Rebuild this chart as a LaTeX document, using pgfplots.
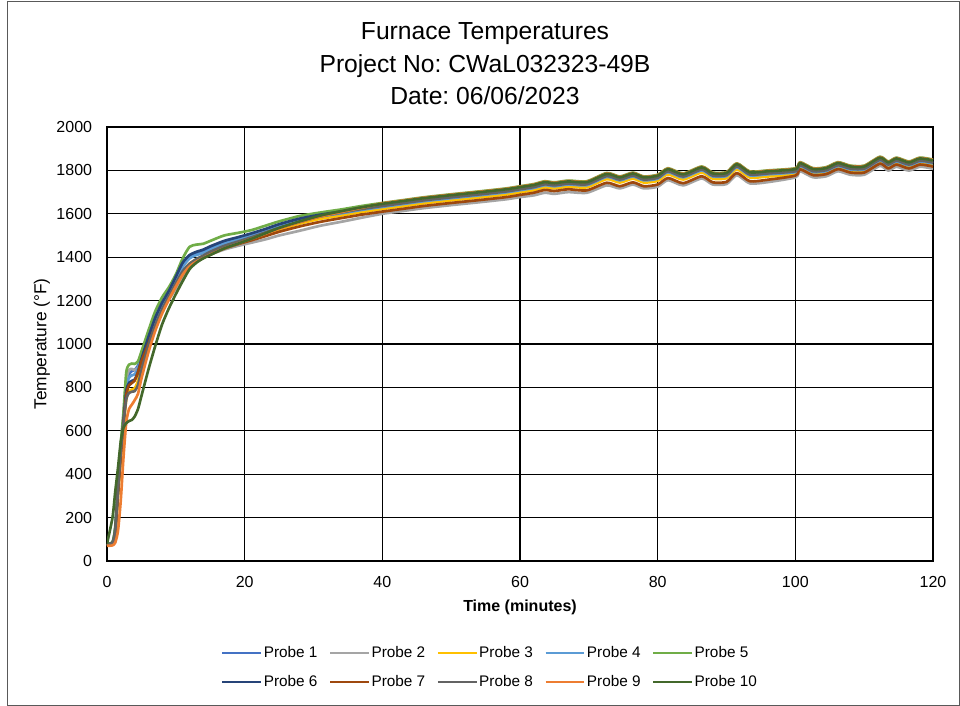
\documentclass[border=0pt]{standalone}
\usepackage{fontspec}
\setmainfont{Liberation Sans}
\usepackage{pgfplots}
\pgfplotsset{compat=1.18}
\usepackage{pgfplotstable}
\frenchspacing

\definecolor{c1}{HTML}{4472C4}
\definecolor{c2}{HTML}{A5A5A5}
\definecolor{c3}{HTML}{FFC000}
\definecolor{c4}{HTML}{5B9BD5}
\definecolor{c5}{HTML}{70AD47}
\definecolor{c6}{HTML}{264478}
\definecolor{c7}{HTML}{9E480E}
\definecolor{c8}{HTML}{636363}
\definecolor{c9}{HTML}{ED7D31}
\definecolor{c10}{HTML}{43682B}

\pgfplotstableread{
t p1 p2 p3 p4 p5 p6 p7 p8 p9 p10
0 78 78 75 78 80 78 75 78 70 80
0.8 85 84 80 84 88 84 80 84 72 200
1.2 150 150 125 145 160 140 130 140 85 320
1.6 340 345 300 335 360 330 310 330 140 430
2 520 525 470 510 540 500 480 500 280 550
2.4 660 665 615 655 690 645 630 635 480 615
2.8 810 835 745 800 870 785 765 745 640 635
3.2 860 880 780 845 905 820 810 775 700 645
3.6 875 885 790 855 910 830 820 780 720 650
4 880 880 795 860 908 835 830 782 740 665
4.5 900 890 830 885 920 870 870 810 770 700
5 950 930 900 940 965 930 920 880 840 760
6 1040 1010 1000 1035 1060 1030 1000 990 960 880
7 1120 1090 1090 1115 1150 1120 1080 1085 1060 990
8 1185 1155 1160 1180 1215 1190 1150 1160 1140 1090
9 1240 1205 1220 1235 1262 1245 1210 1220 1205 1165
10 1300 1255 1280 1295 1320 1310 1270 1280 1265 1230
11 1360 1305 1335 1355 1395 1375 1325 1335 1320 1290
12 1400 1350 1370 1395 1448 1410 1365 1370 1358 1345
13 1415 1380 1390 1410 1458 1425 1385 1392 1380 1375
14 1425 1398 1405 1420 1462 1435 1400 1408 1396 1395
15 1440 1412 1420 1435 1475 1450 1415 1425 1412 1410
17 1468 1435 1447 1462 1500 1475 1440 1452 1440 1440
19 1488 1452 1468 1483 1512 1492 1460 1472 1462 1462
21 1505 1467 1488 1502 1525 1510 1478 1492 1485 1485
23 1525 1482 1508 1522 1545 1530 1497 1514 1508 1510
25 1545 1500 1528 1543 1565 1552 1517 1535 1532 1535
28 1570 1522 1555 1568 1590 1578 1542 1562 1562 1565
31 1584 1545 1577 1588 1606 1596 1563 1588 1588 1592
34 1598 1563 1592 1602 1620 1610 1580 1606 1608 1612
37 1614 1582 1608 1618 1636 1626 1596 1622 1628 1630
40 1628 1600 1622 1632 1650 1640 1610 1636 1648 1646
43 1641 1613 1635 1645 1663 1653 1623 1649 1661 1659
46 1654 1626 1648 1658 1676 1666 1636 1662 1674 1672
50 1668 1640 1662 1672 1690 1680 1650 1676 1688 1686
54 1681 1653 1675 1685 1703 1693 1663 1689 1701 1699
58 1695 1667 1689 1699 1717 1707 1677 1703 1715 1713
60 1705 1677 1699 1709 1727 1717 1687 1713 1725 1723
62 1715 1685 1709 1719 1737 1727 1697 1723 1735 1733
63.6 1728 1697 1722 1732 1750 1740 1710 1736 1748 1746
65 1723 1692 1717 1727 1745 1735 1705 1731 1743 1741
67 1731 1700 1725 1735 1753 1743 1713 1739 1751 1749
69.7 1728 1697 1722 1732 1750 1740 1708 1736 1748 1746
72.6 1766 1731 1760 1770 1788 1778 1743 1774 1786 1784
74.5 1750 1717 1744 1754 1772 1762 1727 1758 1770 1768
76.4 1768 1735 1762 1772 1790 1780 1745 1776 1788 1786
78 1750 1717 1744 1754 1772 1762 1727 1758 1770 1768
80 1758 1725 1752 1762 1780 1770 1735 1766 1778 1776
81.5 1788 1755 1782 1792 1810 1800 1765 1796 1808 1806
83.7 1764 1731 1758 1768 1786 1776 1741 1772 1784 1782
86.4 1796 1763 1790 1800 1818 1808 1773 1804 1816 1814
88 1768 1735 1762 1772 1790 1780 1745 1776 1788 1786
90 1770 1737 1764 1774 1792 1782 1747 1778 1790 1788
91.5 1811 1778 1805 1815 1833 1823 1788 1819 1831 1829
93.4 1773 1740 1767 1777 1795 1785 1750 1781 1793 1791
96 1778 1746 1772 1782 1800 1790 1757 1786 1798 1796
100 1790 1768 1782 1792 1810 1800 1776 1796 1808 1806
100.7 1818 1796 1810 1820 1838 1828 1805 1824 1836 1834
102.6 1790 1768 1782 1792 1810 1800 1778 1796 1808 1806
104.5 1795 1773 1787 1797 1815 1805 1783 1801 1813 1811
106.2 1818 1796 1810 1820 1838 1828 1806 1824 1836 1834
108 1802 1780 1794 1804 1822 1812 1790 1808 1820 1818
110 1803 1780 1794 1804 1822 1812 1790 1808 1820 1818
112.3 1844 1821 1835 1845 1863 1853 1831 1849 1861 1859
113.5 1822 1799 1813 1823 1841 1831 1809 1827 1839 1837
114.7 1840 1817 1831 1841 1859 1849 1827 1845 1857 1855
116.5 1823 1799 1813 1823 1841 1831 1809 1827 1839 1837
118.1 1841 1817 1831 1841 1859 1849 1827 1845 1857 1855
120 1835 1808 1822 1832 1850 1840 1818 1836 1848 1846
}\furnace

\begin{document}
\begin{tikzpicture}
\useasboundingbox (0pt,0pt) rectangle (720pt,-529.5pt);
\fill[white] (0pt,0pt) rectangle (720pt,-529.5pt);
\draw[black!65, line width=0.75pt] (5.25pt,-1.2pt) rectangle (719.6pt,-528.75pt);

\node[anchor=base, font=\fontsize{18.5}{22}\selectfont] at (363.75pt,-29.5pt) {Furnace Temperatures};
\node[anchor=base, font=\fontsize{18.5}{22}\selectfont] at (363.75pt,-54.5pt) {Project No: CWaL032323-49B};
\node[anchor=base, font=\fontsize{18.5}{22}\selectfont] at (363.75pt,-78.75pt) {Date: 06/06/2023};

\begin{axis}[
  at={(80.25pt,-420.75pt)}, anchor=south west,
  scale only axis, width=619.5pt, height=325.5pt,
  xmin=0, xmax=120, ymin=0, ymax=2000,
  xtick={0,20,...,120}, ytick={0,200,...,2000},
  grid=major, major grid style={black, line width=0.9pt},
  axis line style={black, line width=0.9pt},
  major tick length=0pt,
  tick label style={font=\fontsize{12}{14}\selectfont},
  /pgf/number format/assume math mode=true,
  /pgf/number format/1000 sep={},
  xticklabel style={anchor=north, inner sep=0pt, yshift=-11pt},
  yticklabel style={anchor=east, inner sep=0pt, xshift=-11pt},
  xlabel={Time (minutes)},
  xlabel style={font=\bfseries\fontsize{12}{14}\selectfont, at={(axis description cs:0.5,-0.106)}, anchor=center},
  ylabel={Temperature (°F)},
  ylabel style={font=\fontsize{13}{15}\selectfont, at={(axis description cs:-0.0787,0.5)}, anchor=center},
  legend columns=5,
  legend cell align=left,
  legend style={at={(axis description cs:0.4625,-0.2454)}, anchor=center, draw=none, fill=none,
    font=\fontsize{11.5}{13}\selectfont,
    nodes={inner sep=0pt, text height=8.5pt, text depth=2.5pt},
    row sep=10.75pt,
    /tikz/every odd column/.append style={column sep=1pt},
    /tikz/every even column/.append style={column sep=8.5pt}},
  legend image code/.code={\draw[#1, line width=2pt] (0pt,0pt) -- (29pt,0pt);},
  every axis plot/.append style={line width=2pt, smooth, tension=0.4, no markers, line join=round},
]
\addplot[color=c1] table[x=t,y=p1] {\furnace};
\addlegendentry{Probe 1}
\addplot[color=c2] table[x=t,y=p2] {\furnace};
\addlegendentry{Probe 2}
\addplot[color=c3] table[x=t,y=p3] {\furnace};
\addlegendentry{Probe 3}
\addplot[color=c4] table[x=t,y=p4] {\furnace};
\addlegendentry{Probe 4}
\addplot[color=c5] table[x=t,y=p5] {\furnace};
\addlegendentry{Probe 5}
\addplot[color=c6] table[x=t,y=p6] {\furnace};
\addlegendentry{Probe 6}
\addplot[color=c7] table[x=t,y=p7] {\furnace};
\addlegendentry{Probe 7}
\addplot[color=c8] table[x=t,y=p8] {\furnace};
\addlegendentry{Probe 8}
\addplot[color=c9] table[x=t,y=p9] {\furnace};
\addlegendentry{Probe 9}
\addplot[color=c10] table[x=t,y=p10] {\furnace};
\addlegendentry{Probe 10}
\end{axis}
\end{tikzpicture}
\end{document}
